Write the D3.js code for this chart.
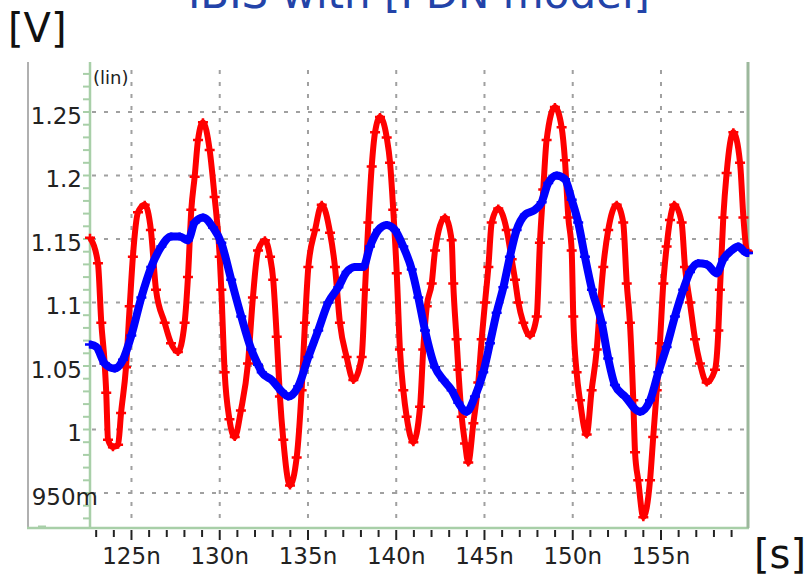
<html>
<head>
<style>
  body { margin: 0; background-color: white; }
  text { font-family: "DejaVu Sans", sans-serif; }
</style>
</head>
<body>
<div id="mydiv"></div>
<script src="https://d3js.org/d3.v7.min.js"></script>
<script>

let width = 805, height = 578;

// red trace, time [ns] / voltage [V]
var redT = [122.65,123.10,123.29,123.48,123.57,123.67,123.95,124.24,124.41,124.69,
  124.90,125.08,125.37,125.75,126.10,126.39,126.88,127.24,127.63,128.01,
  128.20,128.39,128.58,128.77,129.05,129.43,129.71,130.00,130.09,130.28,
  130.55,130.85,131.20,131.60,131.88,132.17,132.56,132.85,133.03,133.23,
  133.41,133.60,133.98,134.36,134.64,134.83,135.02,135.40,135.78,136.25,
  136.53,136.81,137.19,137.57,138.04,138.23,138.42,138.61,138.80,139.08,
  139.46,139.65,139.83,140.03,140.21,140.40,140.59,140.97,141.35,141.53,
  141.73,142.01,142.20,142.76,143.14,143.23,143.42,143.52,143.71,143.90,
  144.08,144.37,144.65,144.84,145.03,145.22,145.41,145.78,146.26,146.54,
  146.73,146.92,147.20,147.58,147.96,148.14,148.33,148.52,148.99,149.37,
  149.56,149.75,149.94,150.03,150.22,150.41,150.79,151.07,151.36,151.54,
  151.73,152.01,152.49,152.86,153.06,153.24,153.43,153.53,153.71,154.00,
  154.38,154.56,154.76,154.94,155.13,155.32,155.51,155.75,156.17,156.36,
  156.64,156.93,157.21,157.59,158.06,158.25,158.34,158.53,158.72,159.10,
  159.48,159.67,159.86,159.93]
var redV = [1.151,1.131,1.084,1.052,1.029,0.992,0.986,0.988,1.013,1.049,
  1.097,1.136,1.171,1.177,1.157,1.110,1.084,1.068,1.061,1.084,
  1.120,1.173,1.199,1.228,1.242,1.220,1.183,1.136,1.110,1.045,
  1.008,0.994,1.015,1.052,1.104,1.141,1.149,1.136,1.118,1.073,
  1.026,0.992,0.956,0.978,1.031,1.084,1.128,1.157,1.177,1.155,
  1.128,1.084,1.057,1.039,1.057,1.110,1.163,1.207,1.234,1.246,
  1.230,1.210,1.173,1.123,1.063,1.031,1.010,0.990,1.018,1.063,
  1.097,1.115,1.141,1.167,1.149,1.115,1.071,1.047,1.010,0.989,
  0.974,1.005,1.037,1.071,1.100,1.128,1.163,1.174,1.157,1.134,
  1.118,1.100,1.084,1.074,1.089,1.147,1.189,1.228,1.254,1.238,
  1.212,1.167,1.141,1.089,1.045,1.023,0.996,1.031,1.063,1.097,
  1.128,1.157,1.177,1.163,1.115,1.084,1.023,0.982,0.960,0.931,
  0.960,0.994,1.031,1.068,1.115,1.144,1.165,1.177,1.163,1.128,
  1.100,1.071,1.052,1.037,1.047,1.078,1.110,1.167,1.202,1.234,
  1.210,1.167,1.141,1.140]

// blue trace
var blueT = [122.65,123.01,123.48,124.05,124.52,124.99,125.56,126.12,126.69,127.25,
  127.73,128.20,128.58,129.05,129.62,130.09,130.65,131.22,131.79,132.17,
  132.38,132.94,133.51,133.88,134.45,135.02,135.58,136.15,136.72,137.19,
  137.66,138.13,138.51,138.98,139.46,139.93,140.40,140.88,141.25,141.63,
  142.20,142.67,143.14,143.52,143.99,144.46,144.93,145.31,145.69,146.07,
  146.44,146.82,147.29,147.86,148.24,148.61,149.09,149.56,149.94,150.31,
  150.69,151.09,151.64,152.01,152.39,152.96,153.81,154.38,154.85,155.32,
  155.79,156.26,156.64,157.11,157.59,158.16,158.53,159.00,159.38,159.86,159.93]
var blueV = [1.067,1.065,1.052,1.048,1.055,1.074,1.104,1.128,1.144,1.152,
  1.152,1.149,1.163,1.167,1.159,1.147,1.118,1.089,1.063,1.051,
  1.045,1.039,1.030,1.026,1.034,1.057,1.078,1.100,1.112,1.124,
  1.128,1.128,1.144,1.157,1.161,1.157,1.144,1.126,1.104,1.078,
  1.049,1.039,1.031,1.021,1.014,1.026,1.045,1.068,1.092,1.112,
  1.136,1.157,1.169,1.173,1.179,1.194,1.200,1.197,1.181,1.163,
  1.136,1.110,1.084,1.056,1.035,1.026,1.014,1.023,1.045,1.065,
  1.089,1.110,1.124,1.131,1.130,1.123,1.134,1.141,1.144,1.139,1.139]

var xTicks = [125, 130, 135, 140, 145, 150, 155]
var xLabels = ["125n", "130n", "135n", "140n", "145n", "150n", "155n"]
var yTicks = [0.95, 1, 1.05, 1.1, 1.15, 1.2, 1.25]
var yLabels = ["950m", "1", "1.05", "1.1", "1.15", "1.2", "1.25"]
var title = "IBIS with [PDN model]"

let plotL = 90, plotR = 748, plotT = 62, plotB = 528;

let svg = d3.select("#mydiv")
  .append("svg")
    .attr("width", width)
    .attr("height", height)

let x = d3.scaleLinear().domain([122.65, 159.93]).range([plotL, plotR]);
let y = d3.scaleLinear().domain([0.95, 1.25]).range([493, 112]);

// grid
svg.append("g").selectAll("line")
  .data(yTicks)
  .enter().append("line")
  .attr("x1", plotL + 2).attr("x2", plotR - 4)
  .attr("y1", d => y(d)).attr("y2", d => y(d))
  .attr("stroke", "#a0a0a0").attr("stroke-width", 2)
  .attr("stroke-dasharray", "4,8")

svg.append("g").selectAll("line")
  .data(xTicks)
  .enter().append("line")
  .attr("x1", d => x(d)).attr("x2", d => x(d))
  .attr("y1", plotT + 8).attr("y2", plotB - 2)
  .attr("stroke", "#a0a0a0").attr("stroke-width", 2)
  .attr("stroke-dasharray", "4,8")

// frame
svg.append("line").attr("x1", 28).attr("x2", 28).attr("y1", plotT).attr("y2", plotB)
  .attr("stroke", "#b0b0b0").attr("stroke-width", 2)
svg.append("line").attr("x1", 27).attr("x2", plotR + 1).attr("y1", plotB).attr("y2", plotB)
  .attr("stroke", "#a8cfa8").attr("stroke-width", 2.5)
svg.append("line").attr("x1", plotL).attr("x2", plotL).attr("y1", plotT).attr("y2", plotB)
  .attr("stroke", "#a8cfa8").attr("stroke-width", 2.5)
svg.append("line").attr("x1", plotR).attr("x2", plotR).attr("y1", plotT).attr("y2", plotB)
  .attr("stroke", "#9cb89c").attr("stroke-width", 3)
svg.append("line").attr("x1", 38).attr("x2", 46).attr("y1", plotB - 1.5).attr("y2", plotB - 1.5)
  .attr("stroke", "#a8cfa8").attr("stroke-width", 2)

// y minor ticks
svg.append("g").selectAll("line")
  .data(d3.range(0.93, 1.285, 0.01))
  .enter().append("line")
  .attr("x1", plotL - 7).attr("x2", plotL)
  .attr("y1", d => y(d)).attr("y2", d => y(d))
  .attr("stroke", "#a8cfa8").attr("stroke-width", 2)

// x ticks
svg.append("g").selectAll("line")
  .data(d3.range(123, 159.5, 1))
  .enter().append("line")
  .attr("x1", d => x(d)).attr("x2", d => x(d))
  .attr("y1", plotB + 2)
  .attr("y2", d => (d % 5 == 0) ? plotB + 12 : plotB + 9)
  .attr("stroke", "#222").attr("stroke-width", 2)

svg.append("g").selectAll("text")
  .data(xTicks)
  .enter().append("text")
  .attr("x", d => x(d))
  .attr("y", 564)
  .attr("text-anchor", "middle")
  .style("font-size", "23px")
  .style("fill", "#222")
  .text((d, i) => xLabels[i])

svg.append("g").selectAll("text")
  .data(yTicks)
  .enter().append("text")
  .attr("x", (d, i) => yLabels[i].endsWith("m") ? 98 : 82)
  .attr("y", d => y(d) + 11.5)
  .attr("text-anchor", "end")
  .style("font-size", "23px")
  .style("fill", "#222")
  .text((d, i) => yLabels[i])

svg.append("text").attr("x", 93).attr("y", 84)
  .style("font-size", "18px").style("fill", "#222").text("(lin)")

// traces
let line = d3.line().x(d => x(d[0])).y(d => y(d[1])).curve(d3.curveMonotoneX);
let redData = redT.map((t, i) => [t, redV[i]]);
let blueData = blueT.map((t, i) => [t, blueV[i]]);

function drawTrace(data, color, w) {
  svg.append("path")
    .datum(data)
    .attr("d", line)
    .attr("fill", "none")
    .attr("stroke", color)
    .attr("stroke-width", w)
    .attr("stroke-linejoin", "round")
  svg.append("g").selectAll("path")
    .data(data)
    .enter().append("path")
    .attr("transform", d => "translate(" + x(d[0]) + "," + y(d[1]) + ")")
    .attr("d", "M-5,0H5M0,-4V4")
    .attr("stroke", color)
    .attr("stroke-width", 2.5)
}
drawTrace(redData, "#ff0000", 6);
drawTrace(blueData, "#0000ff", 8);

// labels
svg.append("text").attr("x", 8).attr("y", 42)
  .style("font-size", "40px").style("fill", "#111").text("[V]")
svg.append("text").attr("x", 754).attr("y", 568)
  .style("font-size", "40px").style("fill", "#111").text("[s]")
svg.append("text").attr("x", 419).attr("y", 8)
  .attr("text-anchor", "middle")
  .style("font-size", "42px").style("fill", "#2343a8").text(title)

</script>
</body>
</html>
